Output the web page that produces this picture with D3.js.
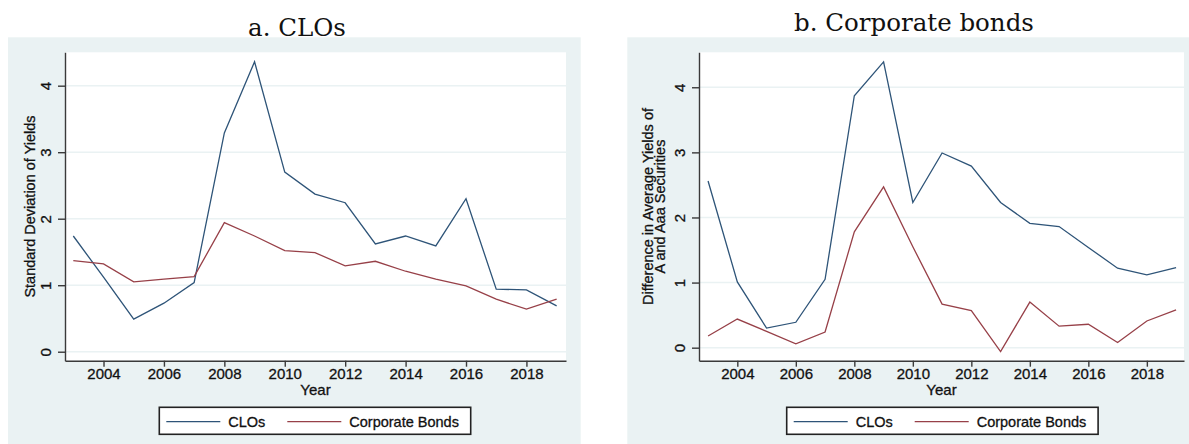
<script src="https://d3js.org/d3.v7.min.js"></script>
<style>
  body { margin: 0; background: #fff; }
  svg { display: block; font-family: 'Liberation Sans', Arial, sans-serif; }
  .sans { stroke: #111; stroke-width: 0.3px; }
</style>
<div id="chart"></div>
<script>
// values
var years = [2003, 2004, 2005, 2006, 2007, 2008, 2009, 2010, 2011,
             2012, 2013, 2014, 2015, 2016, 2017, 2018, 2019];

// a. standard deviation of yields
var cloStdDev  = [1.74, 1.12, 0.49, 0.73, 1.04, 3.29, 4.36, 2.70, 2.37,
                  2.24, 1.62, 1.74, 1.59, 2.30, 0.94, 0.93, 0.69];
var corpStdDev = [1.37, 1.32, 1.05, 1.09, 1.13, 1.94, 1.74, 1.52, 1.49,
                  1.29, 1.36, 1.21, 1.09, 0.99, 0.79, 0.64, 0.79];

// b. difference in average yields, A minus Aaa
var cloYieldDiff  = [2.56, 1.01, 0.30, 0.39, 1.05, 3.87, 4.39, 2.23, 2.99,
                     2.79, 2.23, 1.91, 1.86, 1.54, 1.22, 1.12, 1.23];
var corpYieldDiff = [0.18, 0.44, 0.25, 0.06, 0.24, 1.78, 2.47, 1.55, 0.67,
                     0.57, -0.06, 0.70, 0.33, 0.36, 0.08, 0.41, 0.58];

var xTicks = [2004, 2006, 2008, 2010, 2012, 2014, 2016, 2018];
var yTicks = [0, 1, 2, 3, 4];
var seriesNames = ["CLOs", "Corporate Bonds"];

var blue = "#2e5478", red = "#974048";
var bg = "#eaf2f3";

var svg = d3.select("#chart").append("svg")
    .attr("width", 1189)
    .attr("height", 444);

function drawPanel(p) {
    // panel background
    svg.append("rect")
        .attr("x", p.bgX).attr("y", 37.3)
        .attr("width", p.bgW).attr("height", 444 - 37.3)
        .attr("fill", bg);

    svg.append("text")
        .attr("x", p.titleX).attr("y", p.titleY)
        .attr("text-anchor", "middle")
        .style("font-family", "'DejaVu Serif', serif")
        .style("font-size", "24.5px")
        .attr("fill", "#111")
        .text(p.title);

    var x = d3.scaleLinear().domain(p.xDomain).range([p.left, p.right]);
    var y = d3.scaleLinear().domain(p.yDomain).range([p.bottom, p.top]);

    svg.append("rect")
        .attr("x", p.left).attr("y", p.top)
        .attr("width", p.right - p.left).attr("height", p.bottom - p.top)
        .attr("fill", "#fff");

    // gridlines
    svg.append("g")
        .selectAll("line")
        .data(yTicks)
        .enter()
        .append("line")
        .attr("x1", p.left).attr("x2", p.right)
        .attr("y1", function (d) { return y(d); })
        .attr("y2", function (d) { return y(d); })
        .attr("stroke", bg)
        .attr("stroke-width", 1.5);

    var line = d3.line()
        .x(function (d, i) { return x(years[i]); })
        .y(function (d) { return y(d); });

    svg.append("path").datum(p.clo)
        .attr("d", line).attr("fill", "none")
        .attr("stroke", blue).attr("stroke-width", 1.3);
    svg.append("path").datum(p.corp)
        .attr("d", line).attr("fill", "none")
        .attr("stroke", red).attr("stroke-width", 1.3);

    // axes
    var xa = svg.append("g")
        .attr("transform", "translate(0," + p.bottom + ")")
        .call(d3.axisBottom(x).tickValues(xTicks).tickFormat(d3.format("d"))
            .tickSize(6).tickSizeOuter(0).tickPadding(2));
    var ya = svg.append("g")
        .attr("transform", "translate(" + p.left + ",0)")
        .call(d3.axisLeft(y).tickValues(yTicks).tickFormat(d3.format("d"))
            .tickSize(7).tickSizeOuter(0));

    [xa, ya].forEach(function (a) {
        a.selectAll("path, line").attr("stroke", "#3a3a3a").attr("stroke-width", 1.4);
        a.selectAll("text").attr("fill", "#111").attr("class", "sans")
            .style("font-size", "15px")
            .style("font-family", "'Liberation Sans', Arial, sans-serif");
    });
    ya.selectAll("text")
        .attr("x", null).attr("dy", null)
        .attr("text-anchor", "middle")
        .attr("transform", "translate(-14,0) rotate(-90)");

    svg.append("text")
        .attr("class", "sans")
        .attr("x", (p.left + p.right) / 2).attr("y", 395)
        .attr("text-anchor", "middle")
        .style("font-size", "15px").attr("fill", "#111")
        .text("Year");

    // y title, one or two lines
    var yt = svg.append("text")
        .attr("class", "sans")
        .attr("transform", "translate(" + p.yTitleX + "," + ((p.top + p.bottom) / 2) + ") rotate(-90)")
        .attr("text-anchor", "middle")
        .style("font-size", "14.5px").attr("fill", "#111");
    p.yTitle.forEach(function (t, i) {
        yt.append("tspan").attr("x", 0).attr("y", i * 12).text(t);
    });

    // legend
    var lg = svg.append("g");
    lg.append("rect")
        .attr("x", p.legX).attr("y", 407.3)
        .attr("width", 311.4).attr("height", 27)
        .attr("fill", "#fff").attr("stroke", "#222").attr("stroke-width", 1.6);
    var items = [[p.legX + 7, blue], [p.legX + 128, red]];
    items.forEach(function (it, i) {
        lg.append("line")
            .attr("x1", it[0]).attr("x2", it[0] + 54)
            .attr("y1", 421.7).attr("y2", 421.7)
            .attr("stroke", it[1]).attr("stroke-width", 1.3);
        lg.append("text")
            .attr("class", "sans")
            .attr("x", it[0] + 62).attr("y", 426.9)
            .style("font-size", "14.5px").attr("fill", "#111")
            .text(seriesNames[i]);
    });
}

drawPanel({
    title: "a. CLOs", titleX: 297, titleY: 36,
    bgX: 8, bgW: 572.7,
    left: 65, right: 566, top: 52.3, bottom: 360.7,
    xDomain: [2002.725, 2019.31], yDomain: [-0.135, 4.502],
    clo: cloStdDev, corp: corpStdDev,
    yTitle: ["Standard Deviation of Yields"], yTitleX: 35,
    legX: 159.3
});

drawPanel({
    title: "b. Corporate bonds", titleX: 914, titleY: 30.7,
    bgX: 627.3, bgW: 561.7,
    left: 699, right: 1184, top: 52.3, bottom: 360.7,
    xDomain: [2002.69, 2019.27], yDomain: [-0.2, 4.537],
    clo: cloYieldDiff, corp: corpYieldDiff,
    yTitle: ["Difference in Average Yields of", "A and Aaa Securities"], yTitleX: 653,
    legX: 786.7
});
</script>
